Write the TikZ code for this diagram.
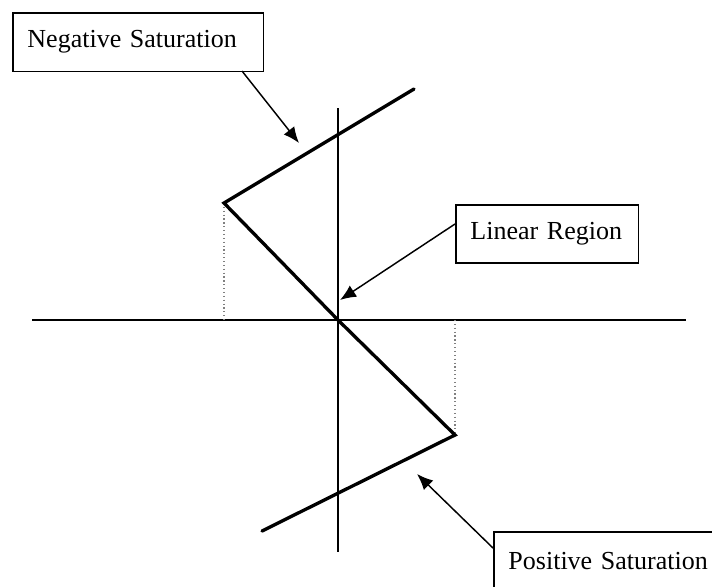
\documentclass[tikz,border=0pt]{standalone}
\usepackage{fontspec}
\setmainfont{Liberation Serif}
\usetikzlibrary{arrows.meta}
\begin{document}
\begin{tikzpicture}[x=0.75pt,y=-0.75pt,
  curve/.style={line width=2.5pt, line join=miter, line cap=round},
  axis/.style={line width=1.2pt},
  guide/.style={line width=0.9pt, dotted, gray},
  label/.style={draw, line width=1.2pt, anchor=north west, fill=white,
    font=\fontsize{19.5}{22}\selectfont, align=left, inner xsep=11pt, inner ysep=0pt},
  pointer/.style={line width=1.1pt, -{Latex[length=12pt,width=10pt]}}]
\useasboundingbox (0,0) rectangle (712,586);
\clip (0,0) rectangle (712,586);

% key points
\coordinate (A) at (224,203);
\coordinate (O) at (338,320);
\coordinate (B) at (455,435);
\coordinate (T) at (414,89);
\coordinate (E) at (262,531);
\coordinate (xl) at (32,320);
\coordinate (xr) at (686,320);
\coordinate (yt) at (338,108);
\coordinate (yb) at (338,552);
\coordinate (Ax) at (224,320);
\coordinate (Bx) at (455,320);

% axes
\draw[axis] (xl) -- (xr);
\draw[axis] (yt) -- (yb);

% guides
\draw[guide] (A) -- (Ax);
\draw[guide] (Bx) -- (B);

% characteristic
\draw[curve] (T) -- (A) -- (O) -- (B) -- (E);

% labels
\node[label, minimum height=44pt, text width=166pt] (neg) at (12,12) {Negative Saturation};
\node[label, minimum height=43.5pt, text width=115pt] (lin) at (455,204) {Linear Region};
\node[label, minimum height=44pt, text width=160pt] (pos) at (493,531) {Positive Saturation};

% pointers
\coordinate (negtail) at (242,71);
\coordinate (negtip) at (299,143);
\coordinate (lintail) at (455,224);
\coordinate (lintip) at (340,300);
\coordinate (postail) at (493,548);
\coordinate (postip) at (417,474);
\draw[pointer] (negtail) -- (negtip);
\draw[pointer] (lintail) -- (lintip);
\draw[pointer] (postail) -- (postip);
\end{tikzpicture}
\end{document}
